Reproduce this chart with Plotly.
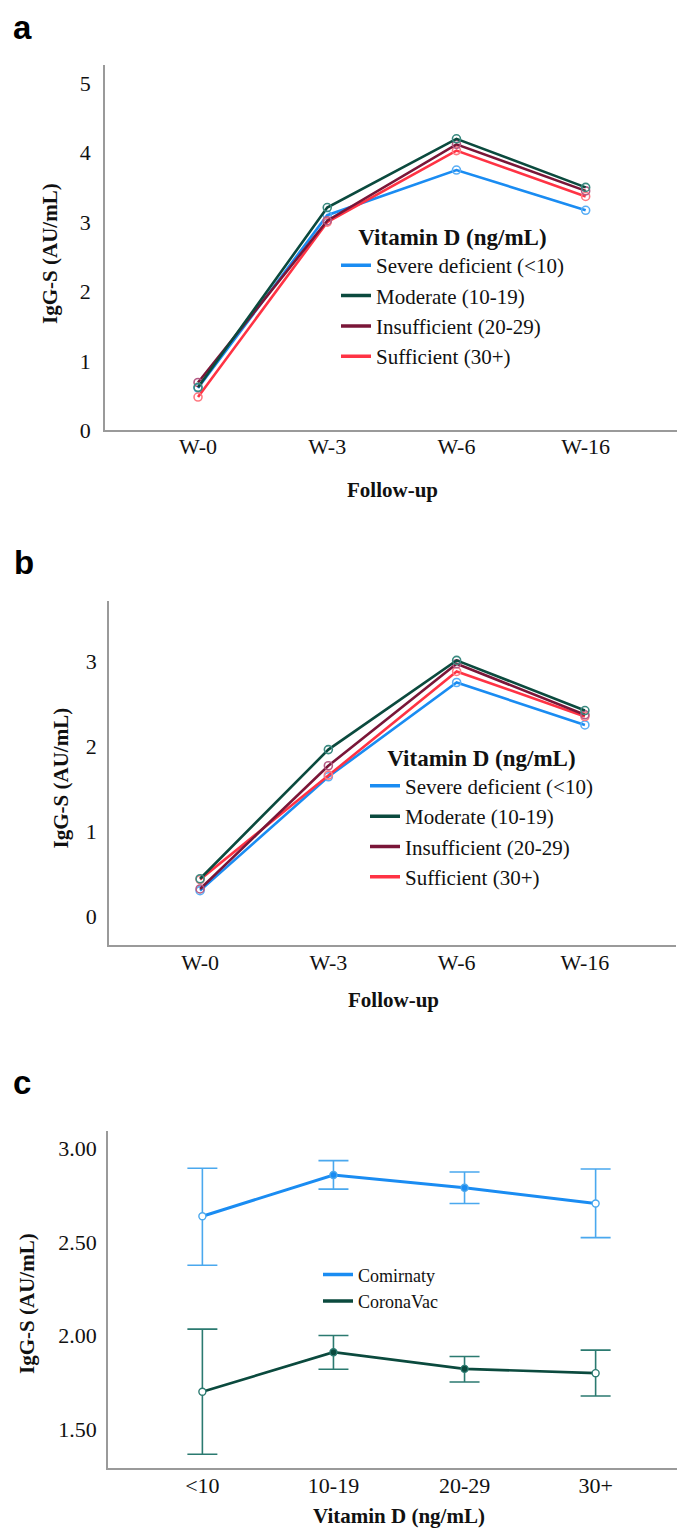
import plotly.graph_objects as go

# ---------------- data ----------------
followup = ["W-0", "W-3", "W-6", "W-16"]
groups = ["Severe deficient (<10)", "Moderate (10-19)", "Insufficient (20-29)", "Sufficient (30+)"]

# panel a (IgG-S, AU/mL)
a_severe = [0.61, 3.10, 3.75, 3.17]
a_moderate = [0.62, 3.21, 4.20, 3.50]
a_insufficient = [0.69, 3.02, 4.12, 3.45]
a_sufficient = [0.48, 3.00, 4.03, 3.37]

# panel b
b_severe = [0.30, 1.64, 2.75, 2.25]
b_moderate = [0.44, 1.96, 3.01, 2.42]
b_insufficient = [0.32, 1.77, 2.97, 2.37]
b_sufficient = [0.43, 1.66, 2.88, 2.35]

# panel c
vitd_cats = ["<10", "10-19", "20-29", "30+"]
comirnaty_mean = [2.637, 2.857, 2.789, 2.705]
comirnaty_upper = [2.893, 2.934, 2.873, 2.889]
comirnaty_lower = [2.375, 2.782, 2.705, 2.523]
coronavac_mean = [1.700, 1.911, 1.822, 1.799]
coronavac_upper = [2.034, 2.000, 1.888, 1.922]
coronavac_lower = [1.366, 1.820, 1.752, 1.677]

y_ticks_a = [0, 1, 2, 3, 4, 5]
y_ticks_b = [0, 1, 2, 3]
y_ticks_c = [1.5, 2.0, 2.5, 3.0]

# ---------------- style ----------------
W, H = 685, 1537
SERIF = "Liberation Serif"
SANS = "Liberation Sans"
line_cols = ["#1a8cf2", "#0b4a3e", "#7a1638", "#ff3344"]
mark_cols = ["#5aaef5", "#3a8a80", "#b45a84", "#ff7a82"]
c_line = ["#1a8cf2", "#0b4a3e"]
c_err = ["#4aa8ee", "#2b7a70"]
AXCOL = "#9a9a9a"
TICK = 22


def fx(px):
    return px / W


def fy(py):
    return 1 - py / H


fig = go.Figure()

a_series = [a_severe, a_moderate, a_insufficient, a_sufficient]
b_series = [b_severe, b_moderate, b_insufficient, b_sufficient]
draw_order = [0, 3, 2, 1]

for series, xa, ya, lg in [(a_series, "x", "y", "legend"), (b_series, "x2", "y2", "legend2")]:
    for i in draw_order:
        fig.add_trace(go.Scatter(
            x=followup, y=series[i], name=groups[i], mode="lines+markers", showlegend=False,
            line=dict(color=line_cols[i], width=2.6),
            marker=dict(symbol="circle-open", size=8, color=mark_cols[i], line=dict(width=1.6)),
            xaxis=xa, yaxis=ya,
        ))
    for i in range(4):
        fig.add_trace(go.Scatter(
            x=[None], y=[None], name=groups[i], mode="lines", showlegend=True,
            line=dict(color=line_cols[i], width=3.5),
            xaxis=xa, yaxis=ya, legend=lg, legendrank=i + 1,
        ))

c_names = ["Comirnaty", "CoronaVac"]
c_means = [comirnaty_mean, coronavac_mean]
c_up = [comirnaty_upper, coronavac_upper]
c_lo = [comirnaty_lower, coronavac_lower]
for k in range(2):
    plus = [u - m for u, m in zip(c_up[k], c_means[k])]
    minus = [m - l for m, l in zip(c_means[k], c_lo[k])]
    fills = ["white", c_line[k], c_line[k], "white"]
    fig.add_trace(go.Scatter(
        x=vitd_cats, y=c_means[k], name=c_names[k], mode="lines+markers", showlegend=False,
        line=dict(color=c_line[k], width=3 if k == 0 else 2.6),
        marker=dict(symbol="circle", size=7, color=fills, line=dict(color=c_err[k], width=1.4)),
        error_y=dict(type="data", symmetric=False, array=plus, arrayminus=minus,
                     color=c_err[k], thickness=1.6, width=15),
        xaxis="x3", yaxis="y3",
    ))
for k in range(2):
    fig.add_trace(go.Scatter(
        x=[None], y=[None], name=c_names[k], mode="lines", showlegend=True,
        line=dict(color=c_line[k], width=3.5),
        xaxis="x3", yaxis="y3", legend="legend3", legendrank=k + 1,
    ))

axis_common = dict(showline=True, linecolor=AXCOL, linewidth=1.6, showgrid=False, zeroline=False,
                   ticks="", tickfont=dict(family=SERIF, size=TICK, color="#111"), fixedrange=True)

legend_common = dict(xanchor="left", yanchor="top", bgcolor="rgba(0,0,0,0)",
                     traceorder="normal", itemclick=False, itemdoubleclick=False)
leg_title = dict(text="<b>Vitamin D (ng/mL)</b>", side="top center",
                 font=dict(family=SERIF, size=23, color="#111"))

fig.update_layout(
    width=W, height=H, margin=dict(l=0, r=0, t=0, b=0),
    paper_bgcolor="white", plot_bgcolor="white",
    font=dict(family=SERIF, color="#111"),
    showlegend=True,
    xaxis=dict(domain=[fx(97), fx(672)], range=[-0.72, 3.73], type="category", anchor="y",
               ticklabelstandoff=-5, **axis_common),
    yaxis=dict(domain=[fy(426), fy(57)], range=[0, 5.27], tickvals=y_ticks_a, anchor="x",
               ticklabelstandoff=8, **axis_common),
    xaxis2=dict(domain=[fx(101), fx(668)], range=[-0.71, 3.71], type="category", anchor="y2",
                ticklabelstandoff=-3, **axis_common),
    yaxis2=dict(domain=[fy(945), fy(598)], range=[-0.34, 3.71], tickvals=y_ticks_b, anchor="x2",
                ticklabelstandoff=6, **axis_common),
    xaxis3=dict(domain=[fx(100), fx(682)], range=[-0.72, 3.72], type="category", anchor="y3",
                ticklabelstandoff=-3, **axis_common),
    yaxis3=dict(domain=[fy(1472), fy(1133)], range=[1.295, 3.09], tickvals=y_ticks_c,
                tickformat=".2f", anchor="x3", ticklabelstandoff=5, **axis_common),
    legend=dict(x=fx(328), y=fy(209), font=dict(family=SERIF, size=21, color="#111"),
                title=leg_title, **legend_common),
    legend2=dict(x=fx(357), y=fy(734), font=dict(family=SERIF, size=21, color="#111"),
                 title=leg_title, **legend_common),
    legend3=dict(x=fx(310), y=fy(1259), font=dict(family=SERIF, size=18, color="#111"),
                 **legend_common),
)

annots = [
    ("a", 4, 0), ("b", 5, 540), ("c", 4, 1064),
]
for txt, x, y in annots:
    fig.add_annotation(text=f"<b>{txt}</b>", xref="paper", yref="paper", x=fx(x), y=fy(y),
                       xanchor="left", yanchor="top", showarrow=False, borderpad=0,
                       font=dict(family=SANS, size=33, color="black"))

titles = [
    ("<b>Follow-up</b>", 384, 486, 0),
    ("<b>Follow-up</b>", 385, 1000, 0),
    ("<b>Vitamin D (ng/mL)</b>", 391, 1521, 0),
    ("<b>IgG-S (AU/mL)</b>", 42, 248, -90),
    ("<b>IgG-S (AU/mL)</b>", 53, 777, -90),
    ("<b>IgG-S (AU/mL)</b>", 19, 1307, -90),
]
for txt, x, y, ang in titles:
    fig.add_annotation(text=txt, xref="paper", yref="paper", x=fx(x), y=fy(y),
                       xanchor="center", yanchor="middle", showarrow=False, textangle=ang,
                       font=dict(family=SERIF, size=21, color="#111"))

fig.write_html("out.html")
